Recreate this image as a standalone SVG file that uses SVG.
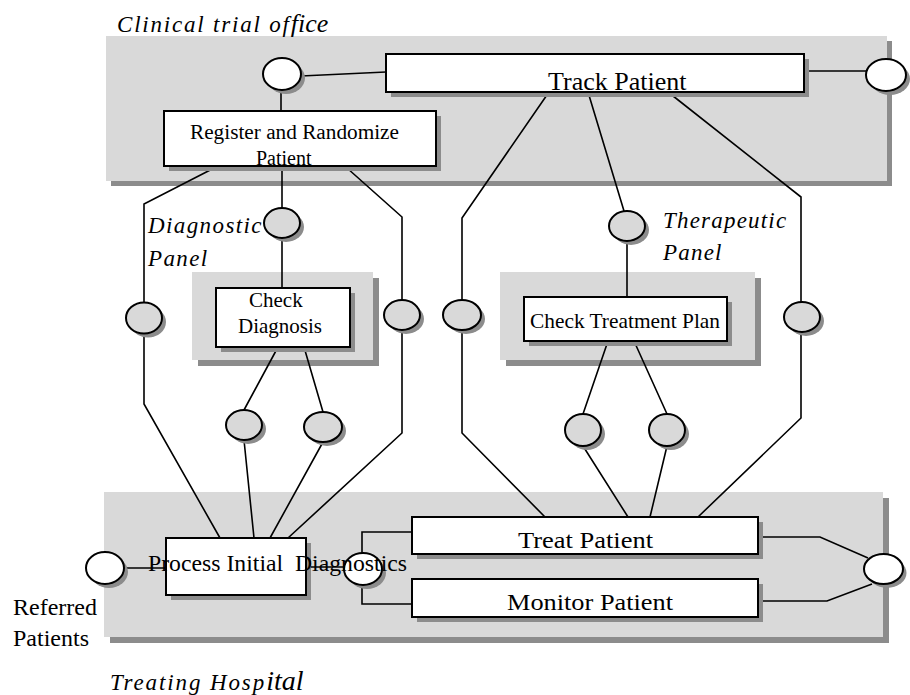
<svg xmlns="http://www.w3.org/2000/svg" width="910" height="695" viewBox="0 0 910 695">
<style>
.bg{fill:#d9d9d9}
.sh{fill:#8c8c8c}
.box{fill:#fff;stroke:#000;stroke-width:2}
.ew{fill:#fff;stroke:#000;stroke-width:2}
.eg{fill:#d9d9d9;stroke:#000;stroke-width:2}
.ln{fill:none;stroke:#000;stroke-width:1.6}
text{font-family:"Liberation Serif","Times New Roman",serif;fill:#000}
.it{font-style:italic;font-size:23px}
</style>
<rect width="910" height="695" fill="#fff"/>
<g id="containers">
  <rect class="sh" x="111" y="41" width="781" height="145"/>
  <rect class="bg" x="106" y="36" width="781" height="145"/>
  <rect class="sh" x="110" y="498" width="779" height="145"/>
  <rect class="bg" x="104" y="492" width="779" height="145"/>
  <rect class="sh" x="198" y="278" width="181" height="88"/>
  <rect class="bg" x="192" y="272" width="181" height="88"/>
  <rect class="sh" x="506" y="278" width="255" height="88"/>
  <rect class="bg" x="500" y="272" width="255" height="88"/>
</g>
<g id="labels">
  <text class="it" x="117" y="32"><tspan letter-spacing="1.8">Clinical trial of</tspan><tspan font-size="26">fice</tspan></text>
  <text class="it" x="110" y="690"><tspan letter-spacing="1.9">Treating Hosp</tspan><tspan font-size="28">ital</tspan></text>
  <text class="it" x="148" y="233" letter-spacing="1.4">Diagnostic</text>
  <text class="it" x="148" y="266" letter-spacing="1.4">Panel</text>
  <text class="it" x="663" y="228" letter-spacing="1.2">Therapeutic</text>
  <text class="it" x="663" y="260" letter-spacing="1.2">Panel</text>
  <text x="13" y="615" font-size="24">Referred</text>
  <text x="13" y="646" font-size="24">Patients</text>
</g>
<g id="connectors" class="ln">
  <path d="M301,76 L386,72"/>
  <path d="M804,71 L866,71"/>
  <path d="M281,90 L281,111"/>
  <path d="M220,165 L144,204 L144,404 L220,538"/>
  <path d="M282,166 L282,288"/>
  <path d="M347,168 L402,217 L402,433 L288,538"/>
  <path d="M278,347 L244,410 M244,440 L254,538"/>
  <path d="M304,347 L323,412 M323,442 L270,538"/>
  <path d="M549,92 L462,218 L462,433 L545,517"/>
  <path d="M588,92 L624,211 M627,241 L627,297"/>
  <path d="M668,92 L801,197 L801,418 L698,517"/>
  <path d="M608,341 L583,414 M583,446 L628,517"/>
  <path d="M634,341 L667,414 M667,446 L650,517"/>
  <path d="M124,568 L166,568"/>
  <path d="M306,567 L344,567"/>
  <path d="M412,532 L362,532 L362,604 L412,604"/>
  <path d="M758,537 L820,537 L868,558"/>
  <path d="M758,601 L827,601 L872,584"/>
</g>
<g id="ellipses">
  <g id="e-top-left"><ellipse class="sh" cx="286" cy="78" rx="19" ry="16"/><ellipse class="ew" cx="282" cy="74" rx="19" ry="16"/></g>
  <g id="e-top-right"><ellipse class="sh" cx="890" cy="79" rx="20" ry="16"/><ellipse class="ew" cx="886" cy="75" rx="20" ry="16"/></g>
  <g id="e-referred"><ellipse class="sh" cx="109" cy="572" rx="19" ry="16"/><ellipse class="ew" cx="105" cy="568" rx="19" ry="16"/></g>
  <g id="e-pid-out"><ellipse class="sh" cx="367" cy="573" rx="19" ry="16"/><ellipse class="ew" cx="363" cy="569" rx="19" ry="16"/></g>
  <g id="e-bottom-right"><ellipse class="sh" cx="887" cy="573" rx="19.5" ry="15"/><ellipse class="ew" cx="883.5" cy="569" rx="19.5" ry="15"/></g>
  <g id="e-diag-top"><ellipse class="sh" cx="286" cy="227" rx="18" ry="15"/><ellipse class="eg" cx="282" cy="223" rx="18" ry="15"/></g>
  <g id="e-diag-left"><ellipse class="sh" cx="148" cy="322" rx="18" ry="15.5"/><ellipse class="eg" cx="144" cy="318" rx="18" ry="15.5"/></g>
  <g id="e-diag-right"><ellipse class="sh" cx="406" cy="319" rx="18" ry="15"/><ellipse class="eg" cx="402" cy="315" rx="18" ry="15"/></g>
  <g id="e-diag-b1"><ellipse class="sh" cx="248" cy="429" rx="18" ry="15"/><ellipse class="eg" cx="244" cy="425" rx="18" ry="15"/></g>
  <g id="e-diag-b2"><ellipse class="sh" cx="327" cy="431" rx="19" ry="15"/><ellipse class="eg" cx="323" cy="427" rx="19" ry="15"/></g>
  <g id="e-ther-top"><ellipse class="sh" cx="631" cy="230" rx="18" ry="15"/><ellipse class="eg" cx="627" cy="226" rx="18" ry="15"/></g>
  <g id="e-ther-left"><ellipse class="sh" cx="466" cy="319" rx="19" ry="15"/><ellipse class="eg" cx="462" cy="315" rx="19" ry="15"/></g>
  <g id="e-ther-right"><ellipse class="sh" cx="806" cy="321" rx="18" ry="15"/><ellipse class="eg" cx="802" cy="317" rx="18" ry="15"/></g>
  <g id="e-ther-b1"><ellipse class="sh" cx="587" cy="434" rx="18" ry="16"/><ellipse class="eg" cx="583" cy="430" rx="18" ry="16"/></g>
  <g id="e-ther-b2"><ellipse class="sh" cx="671" cy="434" rx="18" ry="16"/><ellipse class="eg" cx="667" cy="430" rx="18" ry="16"/></g>
</g>
<g id="track-patient">
  <rect class="sh" x="391" y="59" width="418" height="38"/>
  <rect class="box" x="386" y="54" width="418" height="38"/>
  <text x="548" y="90" font-size="26">Track Patient</text>
</g>
<g id="register">
  <rect class="sh" x="169" y="116" width="272" height="55"/>
  <rect class="box" x="164" y="111" width="272" height="55"/>
  <text x="190" y="139" font-size="20" textLength="209" lengthAdjust="spacingAndGlyphs">Register and Randomize</text>
  <text x="256" y="165" font-size="20">Patient</text>
</g>
<g id="check-diagnosis">
  <rect class="sh" x="221" y="293" width="134" height="59"/>
  <rect class="box" x="216" y="288" width="134" height="59"/>
  <text x="249" y="307" font-size="21">Check</text>
  <text x="238" y="333" font-size="21">Diagnosis</text>
</g>
<g id="check-treatment-plan">
  <rect class="sh" x="529" y="302" width="203" height="44"/>
  <rect class="box" x="524" y="297" width="203" height="44"/>
  <text x="530" y="328" font-size="21" textLength="190" lengthAdjust="spacingAndGlyphs">Check Treatment Plan</text>
</g>
<g id="process-initial-diagnostics">
  <rect class="sh" x="171" y="543" width="140" height="57"/>
  <rect class="box" x="166" y="538" width="140" height="57"/>
  <text x="148" y="571" font-size="24" textLength="259" lengthAdjust="spacingAndGlyphs" xml:space="preserve">Process Initial  Diagnostics</text>
</g>
<g id="treat-patient">
  <rect class="sh" x="417" y="522" width="346" height="37"/>
  <rect class="box" x="412" y="517" width="346" height="37"/>
  <text x="518" y="548" font-size="24" textLength="135" lengthAdjust="spacingAndGlyphs">Treat Patient</text>
</g>
<g id="monitor-patient">
  <rect class="sh" x="417" y="584" width="346" height="38"/>
  <rect class="box" x="412" y="579" width="346" height="38"/>
  <text x="507" y="610" font-size="24" textLength="166" lengthAdjust="spacingAndGlyphs">Monitor Patient</text>
</g>
</svg>
